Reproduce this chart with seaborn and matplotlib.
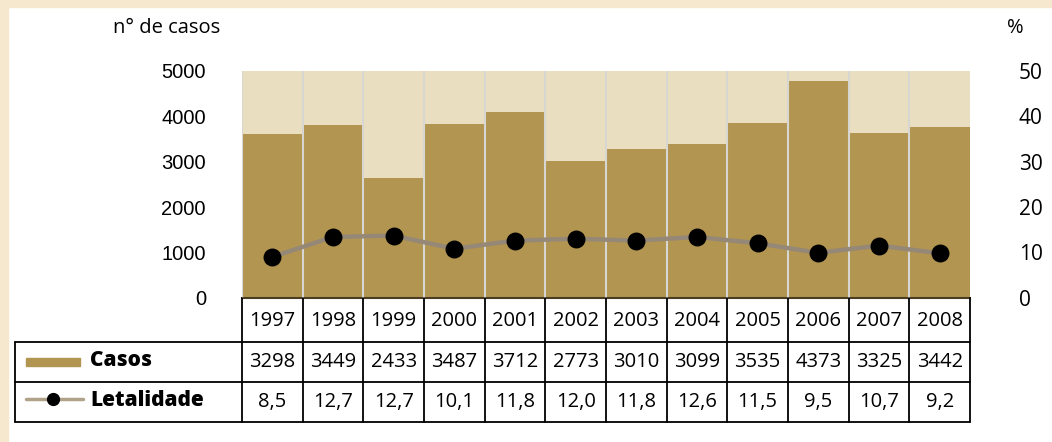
import numpy as np
import pandas as pd
import matplotlib
matplotlib.use('Agg')
import matplotlib.pyplot as plt
from matplotlib.patches import Rectangle
from matplotlib.lines import Line2D
import seaborn as sns

# --- data -------------------------------------------------
anos = ['1997', '1998', '1999', '2000', '2001', '2002',
        '2003', '2004', '2005', '2006', '2007', '2008']
# values printed in the table
casos_tab = ['3298', '3449', '2433', '3487', '3712', '2773',
             '3010', '3099', '3535', '4373', '3325', '3442']
letal_tab = ['8,5', '12,7', '12,7', '10,1', '11,8', '12,0',
             '11,8', '12,6', '11,5', '9,5', '10,7', '9,2']
# heights as they are drawn in the chart
casos_barras = [3606, 3804, 2637, 3833, 4090, 3011,
                3275, 3385, 3848, 4773, 3628, 3760]
letal_pontos = [9.0, 13.4, 13.7, 10.8, 12.6, 13.0,
                12.6, 13.4, 12.0, 9.9, 11.5, 9.8]

df = pd.DataFrame({'ano': anos, 'casos': casos_barras, 'letalidade': letal_pontos})

BAR = '#b29550'
BG = '#eadec0'
FRAME = '#f6e8cf'
LINE = '#958877'
FONT = 'Open Sans'

sns.set_theme(style='white')
plt.rcParams['font.family'] = [FONT, 'DejaVu Sans']
plt.rcParams['text.color'] = 'black'
plt.rcParams['ytick.color'] = 'black'
plt.rcParams['xtick.color'] = 'black'

W, H = 1052, 442
fig = plt.figure(figsize=(W / 100, H / 100), dpi=100)
fig.patch.set_facecolor('white')

# cream frame on left and top
fig.patches.append(Rectangle((0, 0), 8 / W, 1, transform=fig.transFigure,
                             color=FRAME, zorder=0))
fig.patches.append(Rectangle((0, 1 - 7 / H), 1, 7 / H, transform=fig.transFigure,
                             color=FRAME, zorder=0))

x0, x1, ytop, ybot = 242, 970, 71, 297.7
ax = fig.add_axes([x0 / W, (H - ybot) / H, (x1 - x0) / W, (ybot - ytop) / H])
ax.set_facecolor(BG)

sns.barplot(data=df, x='ano', y='casos', color=BAR, saturation=1, width=1,
            edgecolor='none', ax=ax, zorder=2)
ax.set_ylim(0, 5000)
ax.set_yticks([0, 1000, 2000, 3000, 4000, 5000])
ax.set_yticklabels(['0', '1000', '2000', '3000', '4000', '5000'],
                   family='Liberation Sans', fontsize=14.5)
ax.tick_params(axis='y', length=0, pad=26)
ax.set_xlabel('')
ax.set_ylabel('')

# vertical separators between years
ax.set_xticks(np.arange(-0.5, 11, 1), minor=True)
ax.grid(axis='x', which='minor', color='#d8d6d2', lw=1.5, zorder=3)
ax.grid(axis='x', which='major', visible=False)
ax.set_axisbelow(False)
ax.tick_params(axis='x', which='both', length=0, labelbottom=False)
for s in ['top', 'right', 'left']:
    ax.spines[s].set_visible(False)
ax.spines['bottom'].set_color('#4a3d22')
ax.spines['bottom'].set_linewidth(1.5)

ax2 = ax.twinx()
sns.pointplot(data=df, x='ano', y='letalidade', color=LINE, ax=ax2,
              markers='o', linewidth=3.2, markersize=10.5, zorder=5)
for ln in ax2.lines:
    ln.set_markerfacecolor('black')
    ln.set_markeredgecolor('black')
ax2.set_ylim(0, 50)
ax2.set_yticks([0, 10, 20, 30, 40, 50])
ax2.set_yticklabels(['0', '10', '20', '30', '40', '50'], fontsize=15)
ax2.tick_params(axis='y', length=0, pad=35)
ax2.set_xlabel('')
ax2.set_ylabel('')
for s in ax2.spines.values():
    s.set_visible(False)
ax.set_xlim(-0.5, 11.5)
ax2.set_xlim(-0.5, 11.5)

# axis titles
fig.text(220 / W, 1 - 28 / H, 'n° de casos', ha='right', va='center', fontsize=14.5)
fig.text(1007 / W, 1 - 28 / H, '%', ha='left', va='center', fontsize=14.5)

# --- data table under the chart -------------------------
tx = ax.get_xaxis_transform()
ah = ybot - ytop


def ay(py):
    return (ybot - py) / ah


def axx(px):
    return (px - x0) / (x1 - x0)


TFS = 14.5
for i, a in enumerate(anos):
    ax.text(i, ay(321), a, transform=tx, ha='center', va='center', fontsize=TFS, clip_on=False)
    ax.text(i, ay(362), casos_tab[i], transform=tx, ha='center', va='center', fontsize=TFS, clip_on=False)
    ax.text(i, ay(402), letal_tab[i], transform=tx, ha='center', va='center', fontsize=TFS, clip_on=False)

lkw = dict(color='black', lw=1.3, transform=ax.transAxes, clip_on=False, zorder=6)
for k in range(13):
    ax.add_line(Line2D([k / 12, k / 12], [0, ay(422)], **lkw))
for py in [342, 382, 422]:
    ax.add_line(Line2D([axx(15), 1], [ay(py), ay(py)], **lkw))
ax.add_line(Line2D([axx(15), axx(15)], [ay(342), ay(422)], **lkw))

# legend keys inside the table
ax.add_patch(Rectangle((axx(26), ay(366)), axx(80) - axx(26), ay(358) - ay(366),
                       transform=ax.transAxes, color=BAR, clip_on=False))
ax.text(axx(90), ay(361), 'Casos', transform=ax.transAxes, ha='left', va='center',
        fontsize=15, fontweight='heavy', clip_on=False)
ax.add_line(Line2D([axx(26), axx(83)], [ay(399), ay(399)], color='#b0a289', lw=2.5,
                   transform=ax.transAxes, clip_on=False))
ax.add_line(Line2D([axx(53)], [ay(399)], marker='o', markersize=8.5, color='black',
                   transform=ax.transAxes, clip_on=False))
ax.text(axx(90), ay(401), 'Letalidade', transform=ax.transAxes, ha='left', va='center',
        fontsize=15, fontweight='heavy', clip_on=False)

plt.savefig('out.png', dpi=100)
